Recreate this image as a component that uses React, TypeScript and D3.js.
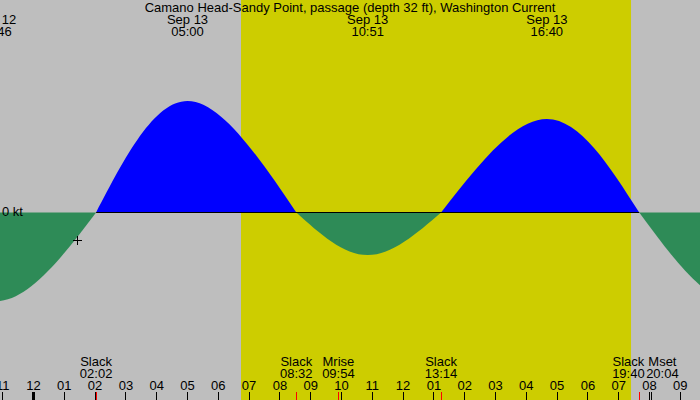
import React from "react";
import * as d3 from "d3";

// Hours relative to Sep 13 00:00 (slack, max, slack, max, ...)
const eventHours = [-4.4, -1.233, 2.033, 5.0, 8.533, 10.85, 13.233, 16.667, 19.667, 22.9, 26.0];
const eventKnots = [0, -1.48, 0, 1.86, 0, -0.71, 0, 1.56, 0, -1.52, 0];

const topLabelHours = [-1.233, 5.0, 10.85, 16.667];
const topLabelDates = ["Sep 12", "Sep 13", "Sep 13", "Sep 13"];
const topLabelTimes = ["22:46", "05:00", "10:51", "16:40"];

const bottomHours = [2.033, 8.533, 9.9, 13.233, 19.667, 20.067];
const bottomNames = ["Slack", "Slack", "Mrise", "Slack", "Slack", "Mset"];
const bottomTimes = ["02:02", "08:32", "09:54", "13:14", "19:40", "20:04"];
const bottomTickRed = [true, true, true, true, true, false];

const sunriseHour = 6.737;
const sunsetHour = 19.4;

const hourTicks = d3.range(-1, 23);
const markerHour = 1.43;
const markerKnots = -0.46;

const title = "Camano Head-Sandy Point, passage (depth 32 ft), Washington Current";

const W = 700;
const H = 400;
const FONT = "'Liberation Sans', Arial, sans-serif";

export default function App() {
  const x = d3.scaleLinear().domain([0, 21]).range([33.5, 33.5 + 21 * 30.8]);
  const y = d3.scaleLinear().domain([-2, 2]).range([332.5, 92.5]);

  const pts = eventHours.map((h, i) => [h, eventKnots[i]] as [number, number]);
  const area = d3
    .area<[number, number]>()
    .x((d) => x(d[0]))
    .y0(y(0))
    .y1((d) => y(d[1]))
    .curve(d3.curveNatural);

  const lobes: { d: string; flood: boolean }[] = [];
  for (let i = 0; i + 2 < pts.length; i += 2) {
    lobes.push({ d: area(pts.slice(i, i + 3)) || "", flood: pts[i + 1][1] > 0 });
  }

  // bottom label layout with simple collision avoidance
  const minSep = 34;
  const lx = bottomHours.map((h) => x(h));
  for (let iter = 0; iter < 10; iter++) {
    for (let i = 0; i < lx.length - 1; i++) {
      const gap = lx[i + 1] - lx[i];
      if (gap < minSep) {
        const push = (minSep - gap) / 2;
        lx[i] -= push;
        lx[i + 1] += push;
      }
    }
  }

  const fmtHour = (h: number) => {
    const hh = ((h % 12) + 12) % 12;
    return String(hh === 0 ? 12 : hh).padStart(2, "0");
  };

  const firstSlack = bottomHours[0];
  const lastSlack = bottomHours[4];

  return (
    <svg
      width={W}
      height={H}
      style={{ position: "absolute", left: 0, top: 0, display: "block" }}
      fontFamily={FONT}
      fontSize={13}
    >
      <rect x={0} y={0} width={W} height={H} fill="#bebebe" />
      <rect
        x={x(sunriseHour)}
        y={0}
        width={x(sunsetHour) - x(sunriseHour)}
        height={H}
        fill="#cdcd00"
      />
      {lobes.map((l, i) => (
        <path key={"l" + i} d={l.d} fill={l.flood ? "#0000ff" : "#2e8b57"} />
      ))}
      <line
        x1={x(firstSlack)}
        x2={x(lastSlack)}
        y1={y(0)}
        y2={y(0)}
        stroke="#000"
        strokeWidth={1}
      />
      <text x={2} y={216} fill="#000">0 kt</text>

      {/* marker */}
      <g stroke="#000" strokeWidth={1} shapeRendering="crispEdges">
        <line x1={x(markerHour) - 4.5} x2={x(markerHour) + 4.5} y1={y(markerKnots)} y2={y(markerKnots)} />
        <line x1={x(markerHour)} x2={x(markerHour)} y1={y(markerKnots) - 4.5} y2={y(markerKnots) + 4.5} />
      </g>

      {/* top labels */}
      <text x={W / 2} y={12} textAnchor="middle" fill="#000">{title}</text>
      {topLabelHours.map((h, i) => (
        <g key={"t" + i}>
          <text x={x(h)} y={24} textAnchor="middle" fill="#000">{topLabelDates[i]}</text>
          <text x={x(h)} y={36} textAnchor="middle" fill="#000">{topLabelTimes[i]}</text>
        </g>
      ))}

      {/* hour ticks */}
      {hourTicks.map((h) => (
        <g key={"h" + h}>
          <text x={x(h)} y={390} textAnchor="middle" fill="#000">{fmtHour(h)}</text>
          <line
            x1={x(h)}
            x2={x(h)}
            y1={392}
            y2={400}
            stroke="#000"
            strokeWidth={((h % 24) + 24) % 24 === 0 ? 3 : 1}
            shapeRendering="crispEdges"
          />
        </g>
      ))}

      {/* bottom events */}
      {bottomHours.map((h, i) => (
        <g key={"b" + i}>
          <line
            x1={x(h)}
            x2={x(h)}
            y1={392}
            y2={400}
            stroke={bottomTickRed[i] ? "#ff0000" : "#000"}
            strokeWidth={1}
            shapeRendering="crispEdges"
          />
          <text x={lx[i]} y={366} textAnchor="middle" fill="#000">{bottomNames[i]}</text>
          <text x={lx[i]} y={378} textAnchor="middle" fill="#000">{bottomTimes[i]}</text>
        </g>
      ))}
    </svg>
  );
}
